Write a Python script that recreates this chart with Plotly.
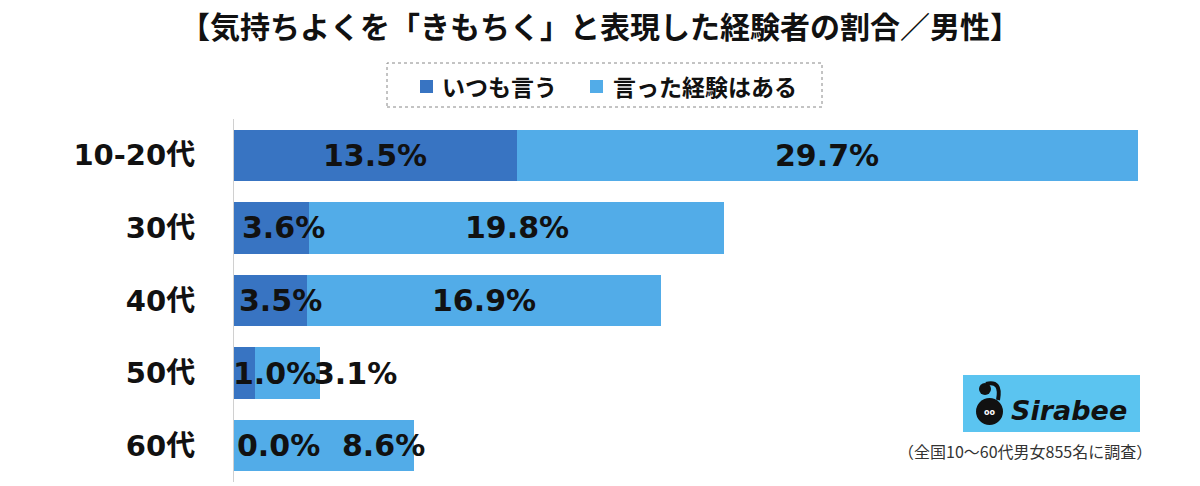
import plotly.graph_objects as go

categories = ["10-20代", "30代", "40代", "50代", "60代"]
always_say = [13.5, 3.6, 3.5, 1.0, 0.0]
have_said = [29.7, 19.8, 16.9, 3.1, 8.6]
series_names = ["いつも言う", "言った経験はある"]
title_text = "【気持ちよくを「きもちく」と表現した経験者の割合／男性】"
note_text = "（全国10～60代男女855名に調査）"

DARK = "#3874C2"
LIGHT = "#52ACE8"
colors = [DARK, LIGHT]
CJK = "Noto Sans CJK JP"
NUM = "DejaVu Sans, Noto Sans CJK JP"

# pixel nudges for labels that don't fit inside their segment
dark_shift = {"30代": 12, "40代": 10, "50代": 30, "60代": 44}
light_shift = {"50代": 68, "60代": 60}

fig = go.Figure()
fig.add_trace(go.Bar(y=categories, x=always_say, orientation="h", name=series_names[0],
                     marker=dict(color=DARK, line=dict(width=0))))
fig.add_trace(go.Bar(y=categories, x=have_said, orientation="h", name=series_names[1],
                     marker=dict(color=LIGHT, line=dict(width=0))))

for c, a, h in zip(categories, always_say, have_said):
    fig.add_annotation(x=a / 2, y=c, xref="x", yref="y", text=f"{a:.1f}%", showarrow=False,
                       xshift=dark_shift.get(c, 0), xanchor="center", yanchor="middle",
                       font=dict(family=NUM, size=30, color="#111", weight="bold"))
    fig.add_annotation(x=a + h / 2, y=c, xref="x", yref="y", text=f"{h:.1f}%", showarrow=False,
                       xshift=light_shift.get(c, 0), xanchor="center", yanchor="middle",
                       font=dict(family=NUM, size=30, color="#111", weight="bold"))

# pixel -> paper helpers (plot area: x 234..1138, y 119..482)
def px(v):
    return (v - 234) / 904

def py(v):
    return (482 - v) / 363

# legend (drawn manually for exact spacing) with dashed frame
fig.add_shape(type="rect", xref="paper", yref="paper", x0=px(387), x1=px(822), y0=py(107), y1=py(63),
              line=dict(color="#888", width=1, dash="dot"), fillcolor="rgba(0,0,0,0)")
legend_sq_left = [420, 590]
legend_txt_left = [440, 611]
for name, col, sq, tx in zip(series_names, colors, legend_sq_left, legend_txt_left):
    fig.add_shape(type="rect", xref="paper", yref="paper", x0=px(sq), x1=px(sq + 13),
                  y0=py(93), y1=py(80), line=dict(width=0), fillcolor=col)
    fig.add_annotation(xref="paper", yref="paper", x=px(tx), y=py(86), text=name, showarrow=False,
                       xanchor="left", yanchor="middle",
                       font=dict(family=CJK, size=23, color="#111", weight="bold"))

# Sirabee logo
fig.add_shape(type="rect", xref="paper", yref="paper", x0=px(963), x1=px(1140), y0=py(432), y1=py(375),
              line=dict(width=0), fillcolor="#5BC4F0")
fig.add_shape(type="circle", xref="paper", yref="paper", x0=px(976), x1=px(1003),
              y0=py(425), y1=py(398), line=dict(width=0), fillcolor="#111")
fig.add_shape(type="circle", xref="paper", yref="paper", x0=px(979), x1=px(991),
              y0=py(395), y1=py(383), line=dict(width=0), fillcolor="#111")
fig.add_shape(type="path", xref="paper", yref="paper",
              path=f"M {px(986)} {py(384)} Q {px(1002)} {py(380)} {px(998)} {py(400)}",
              line=dict(color="#111", width=4))
fig.add_annotation(xref="paper", yref="paper", x=px(989), y=py(412), text="<b>oo</b>", showarrow=False,
                   xanchor="center", yanchor="middle",
                   font=dict(family="DejaVu Sans", size=8, color="white"))
fig.add_annotation(xref="paper", yref="paper", x=px(1009), y=py(410),
                   text="<b><i>Sirabee</i></b>", showarrow=False, xanchor="left", yanchor="middle",
                   font=dict(family="DejaVu Sans", size=27, color="#111"))
fig.add_annotation(xref="paper", yref="paper", x=px(1025), y=py(451),
                   text=note_text, showarrow=False, xanchor="center", yanchor="middle",
                   font=dict(family=CJK, size=16, color="#333"))

fig.update_layout(
    width=1200, height=486,
    barmode="stack", bargap=0.29,
    paper_bgcolor="white", plot_bgcolor="white",
    margin=dict(l=234, r=62, t=119, b=4),
    title=dict(text=title_text, x=0.5, xref="container", xanchor="center",
               y=1 - 27 / 486, yref="container", yanchor="middle",
               font=dict(family=CJK, size=30, color="#111", weight="bold")),
    showlegend=False,
)
fig.update_xaxes(range=[0, 43.2], visible=False, showgrid=False, zeroline=False, fixedrange=True)
fig.update_yaxes(autorange="reversed", showline=True, linecolor="#d0d0d0", linewidth=1,
                 showgrid=False, zeroline=False, ticks="", ticklabelstandoff=32,
                 tickfont=dict(family=NUM, size=29, color="#111", weight="bold"))

fig.write_html("out.html")
